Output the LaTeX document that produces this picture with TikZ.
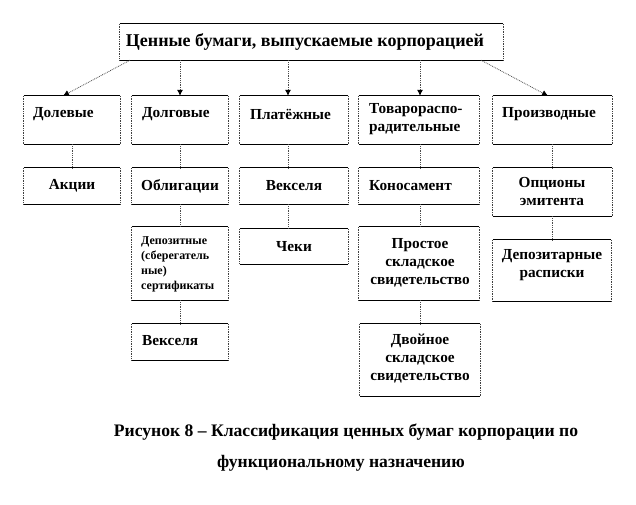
\documentclass[tikz,border=0pt]{standalone}
\usepackage{fontspec}
\setmainfont{Liberation Serif}
\usetikzlibrary{arrows.meta,fit}
\tikzset{
  bx/.style={inner sep=0pt, draw=none},
  hline/.style={line width=0.7pt, black},
  vline/.style={line width=0.7pt, black!75, densely dotted},
  conn/.style={line width=0.8pt, black!70, densely dotted},
  arr/.style={conn, -{Latex[length=6pt,width=6pt,black]}},
  lbl/.style={inner sep=0pt, font=\bfseries\fontsize{15.3}{18}\selectfont},
  small/.style={inner sep=0pt, font=\bfseries\fontsize{12}{15}\selectfont},
  ttl/.style={inner sep=0pt, font=\bfseries\fontsize{18}{22}\selectfont},
  capt/.style={inner sep=0pt, font=\bfseries\fontsize{17.6}{20}\selectfont}
}
\newcommand\mybx[1]{%
  \draw[hline] (#1.north west) -- (#1.north east) (#1.south west) -- (#1.south east);
  \draw[vline] (#1.north west) -- (#1.south west) (#1.north east) -- (#1.south east);}
\begin{document}
\begin{tikzpicture}[x=1pt,y=-1pt]
\useasboundingbox (0,0) rectangle (636,504);
\fill[white] (0,0) rectangle (636,504);
% top box
\node[bx, fit={(120,24) (503,60)}] (top) {};
\mybx{top}
\node[ttl] (toptxt) at (305,42) {Ценные бумаги, выпускаемые корпорацией};
% level 1
\node[bx, fit={(24,96) (120,144)}] (dol) {};
\node[bx, fit={(132,96) (228,144)}] (dolg) {};
\node[bx, fit={(240,96) (348,144)}] (plat) {};
\node[bx, fit={(359,96) (479,144)}] (tov) {};
\node[bx, fit={(493,96) (612,144)}] (proiz) {};
\foreach \n in {dol,dolg,plat,tov,proiz} {\mybx{\n}}
\node[lbl, anchor=west] (doltxt) at (33,114) {Долевые};
\node[lbl, anchor=west] (dolgtxt) at (142,114) {Долговые};
\node[lbl, anchor=west] (plattxt) at (250,114) {Платёжные};
\node[lbl, anchor=north west, align=left] (tovtxt) at (369,103) {Товарораспо-\\радительные};
\node[lbl, anchor=west] (proiztxt) at (502,114) {Производные};
% level 2
\node[bx, fit={(24,168) (120,204)}] (akc) {};
\node[bx, fit={(132,168) (228,204)}] (obl) {};
\node[bx, fit={(240,168) (348,204)}] (vek) {};
\node[bx, fit={(359,168) (479,204)}] (kon) {};
\node[bx, fit={(493,168) (612,216)}] (opc) {};
\foreach \n in {akc,obl,vek,kon,opc} {\mybx{\n}}
\node[lbl] (akctxt) at (72,186) {Акции};
\node[lbl] (obltxt) at (180,186) {Облигации};
\node[lbl] (vektxt) at (294,186) {Векселя};
\node[lbl, anchor=west] (kontxt) at (369,186) {Коносамент};
\node[lbl, align=center] (opctxt) at (552,192) {Опционы\\эмитента};
% level 3
\node[bx, fit={(132,227) (228,300)}] (dep) {};
\node[bx, fit={(240,229) (348,264)}] (chek) {};
\node[bx, fit={(359,227) (479,300)}] (prost) {};
\node[bx, fit={(493,240) (611,301)}] (depr) {};
\foreach \n in {dep,chek,prost,depr} {\mybx{\n}}
\node[small, anchor=north west, align=left] (deptxt) at (141,236) {Депозитные\\(сберегатель\\ные)\\сертификаты};
\node[lbl] (chektxt) at (294,247) {Чеки};
\node[lbl, align=center] (prosttxt) at (420,263) {Простое\\складское\\свидетельство};
\node[lbl, align=center] (deprtxt) at (552,265) {Депозитарные\\расписки};
% level 4
\node[bx, fit={(132,324) (228,360)}] (vek2) {};
\node[bx, fit={(360,324) (480,396)}] (dvoi) {};
\foreach \n in {vek2,dvoi} {\mybx{\n}}
\node[lbl, anchor=west] (vek2txt) at (142,341) {Векселя};
\node[lbl, align=center] (dvoitxt) at (420,359) {Двойное\\складское\\свидетельство};
% arrows from top
\coordinate (a1) at (130,0);
\coordinate (e1) at (63,0);
\coordinate (a2) at (180,0);
\coordinate (a3) at (288,0);
\coordinate (a4) at (420,0);
\coordinate (a5) at (481,0);
\coordinate (e5) at (548,0);
\coordinate (c5) at (552,0);
\draw[arr] (top.south -| a1) -- (dol.north -| e1);
\draw[arr] (top.south -| a2) -- (dolg.north -| a2);
\draw[arr] (top.south -| a3) -- (plat.north -| a3);
\draw[arr] (top.south -| a4) -- (tov.north -| a4);
\draw[arr] (top.south -| a5) -- (proiz.north -| e5);
% vertical connectors
\draw[conn] (dol.south) -- (akc.north);
\draw[conn] (dolg.south) -- (obl.north);
\draw[conn] (obl.south) -- (dep.north);
\draw[conn] (dep.south) -- (vek2.north);
\draw[conn] (plat.south -| a3) -- (vek.north -| a3);
\draw[conn] (vek.south -| a3) -- (chek.north -| a3);
\draw[conn] (tov.south -| a4) -- (kon.north -| a4);
\draw[conn] (kon.south -| a4) -- (prost.north -| a4);
\draw[conn] (prost.south -| a4) -- (dvoi.north -| a4);
\draw[conn] (proiz.south -| c5) -- (opc.north -| c5);
\draw[conn] (opc.south -| c5) -- (depr.north -| c5);
% caption
\node[capt] (cap1) at (346,432) {Рисунок 8 – Классификация ценных бумаг корпорации по};
\node[capt] (cap2) at (341,463) {функциональному назначению};
\end{tikzpicture}
\end{document}
